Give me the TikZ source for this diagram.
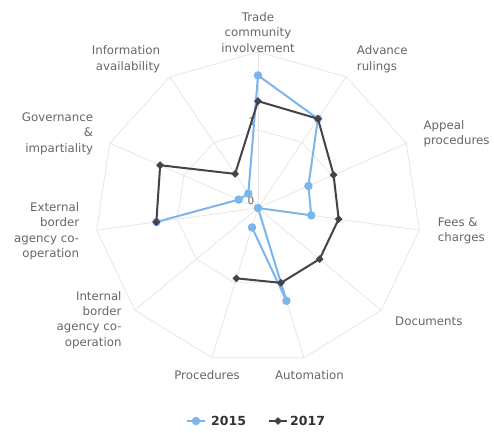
\documentclass[tikz,border=0pt]{standalone}
\usepackage{fontspec}
\setmainfont{DejaVu Sans}
\usetikzlibrary{shapes.geometric}
\definecolor{gridc}{HTML}{E6E6E6}
\definecolor{sblue}{HTML}{7CB5EC}
\definecolor{sdark}{HTML}{434348}
\definecolor{lblc}{HTML}{666666}
\definecolor{legc}{HTML}{333333}
\begin{document}
\begin{tikzpicture}[x=1pt,y=-1pt,
  gridline/.style={draw=gridc, line width=0.8pt},
  axlabel/.style={text=lblc, inner sep=0pt, font=\fontsize{11.8}{15.3}\selectfont},
  ylab/.style={text=lblc, inner sep=0pt, font=\fontsize{10.5}{12}\selectfont},
  sline/.style={line width=2pt, line join=round},
  bmark/.style={circle, fill=sblue, inner sep=0pt, minimum size=8.5pt},
  dmark/.style={diamond, fill=sdark, inner sep=0pt, minimum size=8pt},
  legtext/.style={text=legc, inner sep=0pt, anchor=west, font=\fontsize{12.5}{14}\selectfont\bfseries}]
\useasboundingbox (0,0) rectangle (494,432);
\coordinate (c) at (258,208);
% grid
\foreach \i in {0,...,10}{
  \coordinate (o\i) at ({258+163*sin(\i*360/11)},{208-156*cos(\i*360/11)});
  \coordinate (m\i) at ({258+81.5*sin(\i*360/11)},{208-78*cos(\i*360/11)});
}
\foreach \i in {0,...,10}{ \draw[gridline] (c) -- (o\i); }
\draw[gridline] (o0)--(o1)--(o2)--(o3)--(o4)--(o5)--(o6)--(o7)--(o8)--(o9)--(o10)--cycle;
\draw[gridline] (m0)--(m1)--(m2)--(m3)--(m4)--(m5)--(m6)--(m7)--(m8)--(m9)--(m10)--cycle;
% y-axis labels
\node[ylab] (y0) at (251,201) {0};
\node[ylab] (y1) at (252,122) {1};
% axis labels
\node[axlabel, align=center] (l0) at (258,32.3) {Trade\\community\\involvement};
\node[axlabel, align=left, anchor=west] (l1) at (356.7,59.2) {Advance\\rulings};
\node[axlabel, align=left, anchor=west] (l2) at (423.3,133.5) {Appeal\\procedures};
\node[axlabel, align=left, anchor=west] (l3) at (437.7,230.8) {Fees \&\\charges};
\node[axlabel, anchor=west] (l4) at (395,321.7) {Documents};
\node[axlabel] (l5) at (309.5,375) {Automation};
\node[axlabel] (l6) at (207,375) {Procedures};
\node[axlabel, align=right, anchor=east] (l7) at (121.7,320) {Internal\\border\\agency co-\\operation};
\node[axlabel, align=right, anchor=east] (l8) at (79.3,231.3) {External\\border\\agency co-\\operation};
\node[axlabel, align=right, anchor=east] (l9) at (93.3,133.7) {Governance\\\&\\impartiality};
\node[axlabel, align=right, anchor=east] (l10) at (160.3,59.2) {Information\\availability};
% series 2015
\foreach \i/\v in {0/1.70,1/1.36,2/0.68,3/0.66,4/0,5/1.24,6/0.26,8/1.26,9/0.26,10/0.22}{
  \coordinate (b\i) at ({258+81.5*\v*sin(\i*360/11)},{208-78*\v*cos(\i*360/11)});
}
% series 2017
\foreach \i/\v in {0/1.37,1/1.36,2/1.02,3/1.0,4/1.0,5/1.0,6/0.94,8/1.26,9/1.32,10/0.52}{
  \coordinate (k\i) at ({258+81.5*\v*sin(\i*360/11)},{208-78*\v*cos(\i*360/11)});
}
\draw[sline, sblue] (b8)--(b9)--(b10)--(b0)--(b1)--(b2)--(b3)--(b4)--(b5)--(b6);
\foreach \i in {0,1,2,3,4,5,6,8,9,10}{ \node[bmark] (bm\i) at (b\i) {}; }
\draw[sline, sdark] (k8)--(k9)--(k10)--(k0)--(k1)--(k2)--(k3)--(k4)--(k5)--(k6);
\foreach \i in {0,1,2,3,4,5,6,8,9,10}{ \node[dmark] (km\i) at (k\i) {}; }
% legend
\coordinate (la) at (187,421);
\coordinate (lb) at (205,421);
\draw[sline, sblue] (la) -- (lb);
\node[bmark] (lm1) at (196,421) {};
\node[legtext] (lt1) at (211,421) {2015};
\coordinate (lc) at (269,421);
\coordinate (ld) at (287,421);
\draw[sline, sdark] (lc) -- (ld);
\node[dmark] (lm2) at (278,421) {};
\node[legtext] (lt2) at (290,421) {2017};
\end{tikzpicture}
\end{document}
